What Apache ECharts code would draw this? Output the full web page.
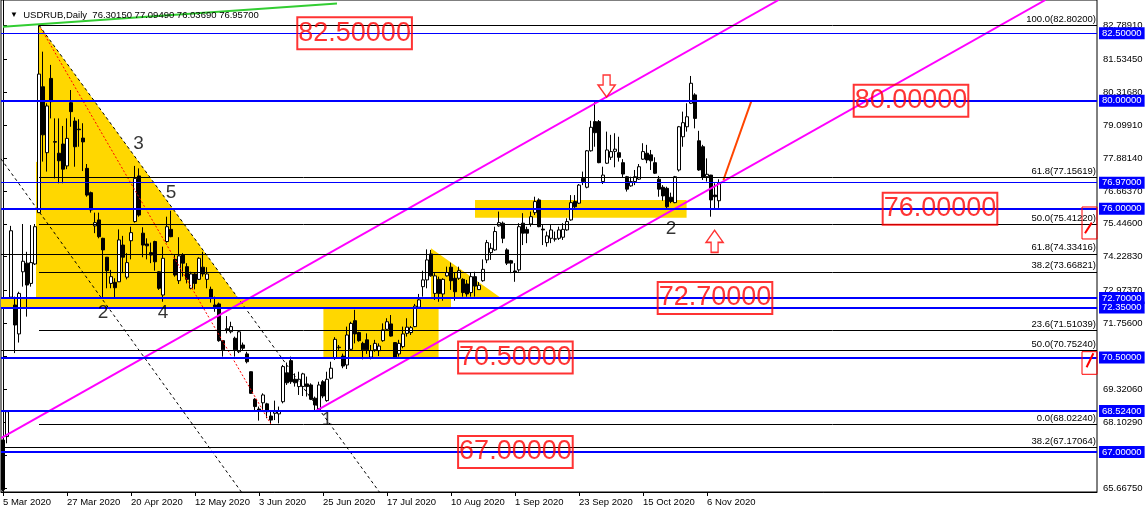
<!DOCTYPE html>
<html><head><meta charset="utf-8">
<script src="https://cdn.jsdelivr.net/npm/echarts@6/dist/echarts.min.js"></script>
<style>html,body{margin:0;padding:0;background:#fff}#c{width:1148px;height:513px}</style>
</head><body><div id="c"></div>
<script>
// ---- daily bars (USDRUB, from 5 Mar 2020) ----
const opens=[67.44,67.57,72.73,72.44,71.37,73.67,73.99,73.24,73.96,75.86,80.52,78.08,80.83,78.49,78.06,78.40,77.59,79.93,79.25,78.95,78.62,77.50,76.60,75.37,75.59,74.91,74.21,73.24,73.28,73.30,74.66,73.47,74.82,75.53,77.22,75.10,74.70,74.38,74.79,73.67,72.81,74.79,75.24,74.13,73.34,74.29,73.86,73.06,73.59,73.39,73.84,73.39,73.02,72.44,72.48,71.12,71.56,71.45,71.21,70.71,70.96,70.63,69.97,68.95,68.59,68.82,68.78,68.33,68.43,68.41,68.86,69.93,70.38,69.69,69.42,69.42,69.52,69.48,68.99,68.56,69.60,68.90,69.73,70.47,70.86,70.55,70.22,70.80,71.86,71.42,71.02,71.15,70.51,70.78,70.75,71.12,71.54,71.74,71.05,70.63,70.90,71.39,71.42,71.64,72.36,73.12,73.37,74.33,72.87,73.39,72.85,73.52,73.84,73.43,73.43,73.39,73.22,72.90,73.49,73.01,73.34,74.11,74.38,74.48,75.37,75.47,74.48,74.08,73.70,73.74,75.47,75.24,75.44,75.86,76.33,75.25,74.75,74.91,74.88,74.91,74.95,75.22,75.59,76.27,76.21,77.13,76.80,78.15,79.23,79.23,77.01,77.69,77.91,78.13,78.08,77.71,77.19,76.85,77.01,77.10,77.84,78.06,78.00,77.71,77.10,76.80,76.76,76.43,76.23,77.44,78.67,79.04,79.91,80.22,78.52,78.30,77.19,77.25,76.51,76.3015];
const highs=[67.45,68.55,75.37,72.75,72.93,75.44,74.41,75.40,75.44,82.802,81.82,79.91,81.33,79.35,79.35,79.07,79.35,80.40,79.39,79.32,79.17,77.66,76.64,75.86,75.86,74.93,74.22,73.74,73.43,75.24,75.00,74.36,75.34,77.59,77.50,75.32,74.91,74.75,74.82,73.69,74.60,75.71,75.93,74.29,74.95,74.36,73.99,73.67,73.62,74.21,74.41,73.84,73.12,72.75,72.53,71.14,72.03,71.82,71.27,71.50,71.05,70.71,69.98,68.99,68.68,69.17,68.82,68.55,68.90,68.68,70.22,70.31,70.53,69.91,69.97,69.93,69.79,69.54,69.05,69.60,69.66,69.97,70.34,71.25,70.96,70.64,71.64,71.82,72.26,71.45,71.08,71.39,70.96,71.15,71.02,71.76,71.95,72.07,71.06,71.15,71.64,71.95,71.66,72.48,72.85,73.71,74.50,74.48,73.62,73.49,73.43,73.86,74.01,73.64,73.86,73.43,73.37,73.64,73.67,73.29,74.13,74.85,74.73,75.34,75.90,75.53,74.54,74.11,73.99,75.47,75.84,75.34,75.90,76.45,76.39,75.40,75.16,75.40,75.16,75.34,75.47,75.65,76.51,76.51,76.92,77.38,78.18,79.26,79.95,79.29,77.56,78.86,78.74,78.80,78.67,77.84,77.22,77.19,77.44,77.66,78.43,78.37,78.18,77.91,77.22,76.88,76.82,76.60,77.22,79.07,79.60,79.91,80.92,80.28,78.89,78.37,77.87,77.26,76.95,77.0949];
const lows=[65.55,67.32,72.70,70.66,71.05,73.12,72.01,73.12,73.92,75.85,77.75,77.38,79.35,77.13,76.95,76.95,77.47,79.04,77.56,78.30,77.40,76.45,75.86,75.10,74.91,72.69,73.06,73.06,72.69,73.29,73.62,73.39,74.13,75.49,75.71,74.21,74.13,73.99,73.71,73.00,72.56,74.75,74.95,73.49,73.22,73.49,73.24,73.02,73.02,73.37,73.49,73.06,72.53,72.19,71.08,70.53,71.39,71.39,70.53,70.66,70.75,70.28,69.15,68.49,68.16,68.55,68.25,68.0224,68.18,68.06,68.80,69.48,69.52,69.42,69.11,69.07,69.05,68.92,68.524,68.524,68.99,68.86,69.69,70.41,70.78,70.10,70.07,70.78,71.02,71.08,70.43,70.63,70.43,70.71,70.55,71.08,71.52,71.27,70.49,70.53,70.84,71.27,71.33,71.62,72.32,72.75,73.06,73.49,72.63,72.56,72.60,73.49,73.00,72.60,73.37,72.75,72.75,72.75,72.75,73.00,73.30,73.99,74.11,74.45,75.34,74.73,73.92,73.62,73.30,73.67,74.66,74.73,75.34,75.77,75.32,74.66,74.60,74.73,74.79,74.85,74.85,75.19,75.56,76.02,76.18,76.88,76.76,78.12,78.30,77.69,76.92,77.66,77.81,77.54,77.75,77.17,76.64,76.82,76.88,77.07,77.81,77.69,77.44,77.29,76.45,76.30,76.02,76.21,76.21,77.38,78.30,78.86,79.88,78.98,77.41,77.07,77.01,75.71,76.02,76.0369];
const closes=[65.60,68.49,75.19,71.70,72.87,74.06,73.18,74.01,75.34,80.99,78.74,79.81,79.97,78.47,77.78,77.47,78.61,79.60,78.30,78.93,78.48,76.51,75.96,75.49,74.97,74.48,73.71,73.49,73.08,74.85,74.21,74.01,75.12,77.13,75.77,74.66,74.63,74.29,74.04,73.06,74.17,75.34,74.97,73.55,74.26,73.99,73.39,73.59,73.24,74.17,73.59,73.59,72.69,72.37,71.12,70.78,71.52,71.64,70.78,71.45,70.84,70.34,69.17,68.68,68.52,69.11,68.49,68.18,68.49,68.52,70.16,69.56,69.60,69.56,69.69,69.89,69.42,68.95,68.74,69.48,69.07,69.69,70.10,71.17,70.88,70.18,71.33,71.76,71.37,71.12,70.78,70.78,70.75,71.02,70.92,71.52,71.82,71.29,70.51,71.02,71.37,71.62,71.60,72.40,72.63,73.37,74.11,73.52,73.52,72.87,73.39,73.64,73.34,72.93,73.71,72.90,72.85,73.49,73.14,73.17,73.76,74.75,74.54,75.16,75.49,74.91,73.99,73.99,73.66,75.34,75.10,75.10,75.71,76.27,75.34,75.22,75.00,75.22,74.89,75.22,75.24,75.53,76.23,76.08,76.88,77.01,78.15,79.02,78.82,77.71,77.25,78.18,78.12,78.21,77.91,77.29,76.73,77.01,77.19,77.56,78.12,77.81,77.78,77.32,76.73,76.48,76.08,76.27,77.19,79.04,79.19,79.41,80.65,79.35,77.44,77.17,77.28,76.33,76.45,76.957];

// ---- axes ----
const totalSlots=274;               // bar slots on the time axis (includes empty future)
const labelEvery=16;
const MONTHS=['Jan','Feb','Mar','Apr','May','Jun','Jul','Aug','Sep','Oct','Nov','Dec'];
const categories=[];
(function(){let d=Date.UTC(2020,2,5);while(categories.length<totalSlots){const t=new Date(d);const w=t.getUTCDay();if(w!==0&&w!==6)categories.push(t.getUTCDate()+' '+MONTHS[t.getUTCMonth()]+' '+t.getUTCFullYear());d+=86400000;}})();
const yMin=65.517, yMax=83.733;
const yTickValues=[82.7891,81.5345,80.3168,79.0991,77.8814,76.6637,75.4460,74.2283,72.9737,71.7560,70.5383,69.3206,68.1029,66.8852,65.6675];

// ---- annotations ----
const blueLevels=[82.5,80,76.97,76,72.7,72.35,70.5,68.524,67];
const thinBlueLevels=[82.5,76.97];
const fibAStart=9;
const fibA=[[82.802,'100.0'],[77.15619,'61.8'],[75.4122,'50.0'],[73.66821,'38.2'],[71.51039,'23.6'],[68.0224,'0.0']];
const fibBStart=-0.5;
const fibB=[[74.33416,'61.8'],[70.7524,'50.0'],[67.17064,'38.2']];
const channelUpper=[[-0.5,67.512],[193.9,83.733]];
const channelLower=[[78.25,68.524],[260.6,83.733]];
const greenLine=[[0,82.745],[83.5,83.603]];
const dashedA=[[-0.5,77.85],[59.6,65.517]];
const dashedB=[[9,82.802],[94.1,65.517]];
const fibDiagonal=[[9,82.802],[67,68.0224]];
const forecastLine=[[180.1,77.07],[187.1,80.0]];
const yellowZones=[
  [[9,82.802],[9,72.70],[58.75,72.70]],
  [[8.25,72.70],[8.25,77.74],[9,77.74],[9,72.70]],
  [[-0.5,72.35],[-0.5,72.70],[112,72.70],[112,72.35]],
  [[80.1,70.5],[80.1,72.35],[108.9,72.35],[108.9,70.5]],
  [[107,74.54],[107,72.70],[124.5,72.70]],
  [[118,75.67],[118,76.33],[170.9,76.33],[170.9,75.67]]
];
const waveLabels=[[33.9,78.41,'3'],[42,76.61,'5'],[25,72.145,'2'],[40,72.145,'4'],[81,68.18,'1'],[167,75.255,'2']];
const priceTexts=[[87.9,82.5,'82.50000'],[227,80,'80.00000'],[234.25,76,'76.00000'],[178,72.7,'72.70000'],[128.1,70.5,'70.50000'],[128.1,67,'67.00000']];
const arrowsDown=[[150.9,80.549]];
const arrowsUp=[[177.9,74.80]];
const edgeBoxes=[
  {box:[269.75,74.885,273.5,76.069],stroke:[[270.5,75.095],[272.2,75.49]]},
  {box:[269.75,69.875,273.5,70.712],stroke:[[270.9,70.134],[272.6,70.653]]}
];

const F="'Liberation Sans',Arial,sans-serif";
const FS=9;
const last=opens.length-1;
const f5=v=>v.toFixed(5);

const candleData=opens.map((o,i)=>[o,closes[i],lows[i],highs[i]]);

const markData=[];
[[fibAStart,fibA],[fibBStart,fibB]].forEach(([s,arr])=>{
  arr.forEach(([v,t])=>markData.push([
    {coord:[s,v],lineStyle:{color:'#000',width:1,type:'solid'},
     label:{show:true,position:'insideEndTop',distance:[1,1],formatter:t+'('+f5(v)+')',color:'#000',fontSize:FS+0.5,fontFamily:F}},
    {coord:[totalSlots-0.5,v]}
  ]));
});
blueLevels.forEach(v=>markData.push({yAxis:v,
  lineStyle:{color:'#0000FF',width:thinBlueLevels.includes(v)?1:2,type:'solid'},
  label:{show:true,position:'end',distance:2,formatter:f5(v),color:'#fff',backgroundColor:'#0000FF',padding:[1,3,0,3],fontSize:FS+0.5,fontFamily:F,lineHeight:11}}));

function lineSeries(pts,color,width,type,z){
  return {type:'line',xAxisIndex:1,yAxisIndex:0,data:pts,showSymbol:false,symbol:'none',silent:true,z:z||4,
    lineStyle:{color:color,width:width,type:type||'solid'},animation:false,clip:true};
}

const option={
  animation:false,
  backgroundColor:'#fff',
  title:{left:5,top:5,text:'{a|▼}  USDRUB,Daily  '+[opens[last],highs[last],lows[last],closes[last]].map(f5).join(' '),
    textStyle:{fontSize:FS+0.5,fontWeight:'normal',color:'#000',fontFamily:F,rich:{a:{fontSize:8,color:'#000'}}}},
  grid:{left:1,top:0,width:totalSlots*4,height:492,show:true,borderColor:'#000',borderWidth:1,backgroundColor:'transparent'},
  xAxis:[
    {type:'category',data:categories,boundaryGap:true,
     axisLine:{show:true,lineStyle:{color:'#000',width:1}},
     axisTick:{show:true,alignWithLabel:true,length:4,lineStyle:{color:'#000'},interval:(i)=>i%labelEvery===0&&i<=last},
     axisLabel:{show:true,interval:(i)=>i%labelEvery===0&&i<=last,align:'left',margin:5,color:'#000',fontSize:FS+0.5,fontFamily:F},
     splitLine:{show:false}},
    {type:'value',min:-0.5,max:totalSlots-0.5,show:false,splitLine:{show:false}}
  ],
  yAxis:[{type:'value',position:'right',min:yMin,max:yMax,
    axisLine:{show:true,lineStyle:{color:'#000'}},
    axisTick:{show:true,length:4,lineStyle:{color:'#000'},customValues:yTickValues},
    axisLabel:{show:true,margin:6,color:'#000',fontSize:FS+0.5,fontFamily:F,customValues:yTickValues,formatter:v=>f5(v)},
    splitLine:{show:false}}],
  series:[
    {type:'custom',xAxisIndex:1,yAxisIndex:0,z:1,silent:true,clip:true,
     data:yellowZones.map((zn,k)=>[zn[0][0],zn[0][1],k]),
     renderItem:(p,api)=>{const zn=yellowZones[api.value(2)];return {type:'polygon',shape:{points:zn.map(pt=>api.coord(pt))},style:{fill:'#FFD700',stroke:null}};}},
    {type:'candlestick',xAxisIndex:0,yAxisIndex:0,data:candleData,barWidth:3,z:2,silent:true,
     itemStyle:{color:'#fff',color0:'#000',borderColor:'#000',borderColor0:'#000',borderWidth:1}},
    Object.assign(lineSeries([],'#000',1),{markLine:{silent:true,symbol:['none','none'],animation:false,emphasis:{disabled:true},data:markData},z:3}),
    lineSeries(fibDiagonal,'#FF0000',1,[2,2]),
    lineSeries(dashedA,'#000',1,[3,3]),
    lineSeries(dashedB,'#000',1,[3,3]),
    lineSeries(greenLine,'#32CD32',2),
    lineSeries(channelUpper,'#FF00FF',2),
    lineSeries(channelLower,'#FF00FF',2),
    lineSeries(forecastLine,'#FF4500',2),
    {type:'custom',xAxisIndex:1,yAxisIndex:0,z:5,silent:true,clip:false,
     data:edgeBoxes.map((b,k)=>[b.box[0],b.box[1],k]),
     renderItem:(p,api)=>{const b=edgeBoxes[api.value(2)];const a=api.coord([b.box[0],b.box[3]]);const c=api.coord([b.box[2],b.box[1]]);
       const s0=api.coord(b.stroke[0]),s1=api.coord(b.stroke[1]);
       return {type:'group',children:[
         {type:'rect',shape:{x:a[0],y:a[1],width:c[0]-a[0],height:c[1]-a[1]},style:{fill:null,stroke:'#FF0000',lineWidth:1}},
         {type:'line',shape:{x1:s0[0],y1:s0[1],x2:s1[0],y2:s1[1]},style:{stroke:'#FF0000',lineWidth:2}}]};}},
    {type:'scatter',xAxisIndex:1,yAxisIndex:0,z:6,silent:true,symbolSize:1,itemStyle:{color:'transparent'},
     data:waveLabels,label:{show:true,position:'inside',formatter:p=>p.value[2],color:'#000',fontSize:19,fontFamily:F}},
    {type:'scatter',xAxisIndex:1,yAxisIndex:0,z:6,silent:true,symbolSize:1,itemStyle:{color:'transparent'},
     data:priceTexts,label:{show:true,position:'inside',formatter:p=>p.value[2],color:'#FF0000',fontSize:27,lineHeight:30,
       fontFamily:F,borderColor:'#FF0000',borderWidth:1,padding:[1,1,1,1],backgroundColor:'transparent'}},
    {type:'scatter',xAxisIndex:1,yAxisIndex:0,z:6,silent:true,data:arrowsDown,
     symbol:'path://M5,0 L12,0 L12,10 L17,10 L8.5,22 L0,10 L5,10 Z',symbolSize:[17,22],
     itemStyle:{color:'#fff',borderColor:'#FF0000',borderWidth:1.5}},
    {type:'scatter',xAxisIndex:1,yAxisIndex:0,z:6,silent:true,data:arrowsUp,
     symbol:'path://M8.5,0 L17,12 L12,12 L12,22 L5,22 L5,12 L0,12 Z',symbolSize:[17,22],
     itemStyle:{color:'#fff',borderColor:'#FF0000',borderWidth:1.5}}
  ]
};
echarts.init(document.getElementById('c'),null,{renderer:'canvas'}).setOption(option);
</script></body></html>
